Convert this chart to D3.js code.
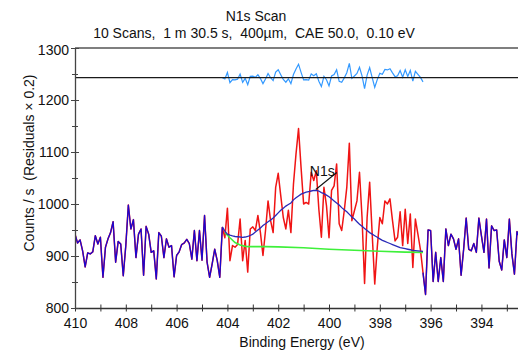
<!DOCTYPE html>
<html>
<head>
<meta charset="utf-8">
<script src="https://cdn.jsdelivr.net/npm/d3@7"></script>
<style>
  html, body { margin: 0; padding: 0; background: #fff; }
  svg { display: block; font-family: "Liberation Sans", Arial, sans-serif; }
  text { white-space: pre; }
</style>
</head>
<body>
<svg id="chart" width="518" height="355"></svg>
<script>
// N1s region scan, 0.10 eV step starting at 410.0 eV binding energy
const energyStart = 410.0;
const energyStep = 0.1;

const counts = [
  942, 925, 931, 910, 879, 906, 904, 908, 939, 923,
  936, 859, 917, 933, 945, 966, 888, 928, 923, 862,
  920, 998, 952, 970, 897, 942, 952, 863, 957, 942,
  907, 910, 856, 945, 938, 897, 933, 917, 920, 860,
  901, 908, 922, 925, 932, 924, 894, 949, 891, 949,
  892, 978, 888, 859, 885, 913, 891, 859, 955, 935,
  992, 891, 920, 917, 922, 971, 891, 930, 869, 952,
  956, 949, 978, 945, 901, 949, 1006, 968, 945, 1032,
  1059, 1016, 974, 952, 988, 945, 1038, 1096, 1145, 1070,
  1000, 1003, 1000, 1061, 1045, 1064, 990, 936, 1032, 997,
  935, 1026, 1035, 1077, 962, 949, 987, 1032, 1117, 968,
  987, 1006, 1061, 974, 847, 974, 1042, 942, 846, 917,
  974, 962, 1006, 1000, 1010, 968, 929, 936, 985, 920,
  990, 924, 981, 878, 971, 942, 912, 868, 826, 950,
  949, 851, 907, 851, 897, 851, 952, 920, 942, 933,
  913, 933, 863, 913, 973, 913, 910, 924, 907, 973,
  939, 907, 971, 877, 958, 949, 950, 890, 873, 931,
  897, 971, 904, 865, 947, 936
];

// Fit region: first and last sample index of the peak window
const fitStartIndex = 58;
const fitEndIndex = 137;

// Peak envelope (background + N1s component) over the fit window
const envelope = [
  956, 948, 942, 940, 938.5, 937.5, 937, 936.5, 936, 936.5,
  937.5, 939.5, 942, 946, 950, 954, 958.5, 962, 966, 969,
  973, 978, 983, 988, 992, 996, 999, 1002, 1008, 1012,
  1015.5, 1019, 1021, 1023, 1024, 1025, 1026, 1026, 1025, 1022,
  1020, 1017, 1014, 1010, 1006, 1002, 998, 993, 989, 985,
  980, 975, 971, 966, 961, 957, 953, 949, 945, 942,
  939, 936, 933, 930, 928, 926, 924, 922, 920, 918,
  916, 915, 914, 913, 912, 911, 910.5, 910, 909.5, 909
];

// Background under the peak
const bgEnergy = [404.1, 403.9, 403.7, 403.5, 403.3, 403.1, 402.5, 402.0, 401.0, 400.0, 399.0, 398.0, 397.0, 396.3];
const bgCounts = [945, 935, 926, 921, 918.5, 918, 918, 917.5, 916, 913, 911, 909, 907.5, 907];

// Residuals are plotted scaled by 0.2 around an offset baseline
const residualScale = 0.2;
const residualBaseline = 1243;

const peakLabel = "N1s";
const titleText = "N1s Scan";
const subtitleText = "10 Scans,  1 m 30.5 s,  400\u00b5m,  CAE 50.0,  0.10 eV";
const xTitle = "Binding Energy (eV)";
const yTitle = "Counts / s  (Residuals \u00d7 0.2)";

const xMinorTicks = d3.range(393, 411, 1);
const xLabelTicks = [410, 408, 406, 404, 402, 400, 398, 396, 394];
const yMajorTicks = [800, 900, 1000, 1100, 1200, 1300];
const yMinorTicks = [850, 950, 1050, 1150, 1250];

(function draw() {
  const plotLeft = 75, plotRight = 518, plotTop = 48, plotBottom = 308;

  const svg = d3.select("#chart");

  const x = d3.scaleLinear().domain([410, 392.56]).range([plotLeft, plotRight]);
  const y = d3.scaleLinear().domain([800, 1300]).range([plotBottom, plotTop]);

  const energies = counts.map((_, i) => +(energyStart - energyStep * i).toFixed(1));
  const points = counts.map((c, i) => ({ e: energies[i], v: c, i }));

  svg.append("defs").append("clipPath").attr("id", "plotClip")
    .append("rect").attr("x", plotLeft).attr("y", plotTop - 2)
    .attr("width", plotRight - plotLeft).attr("height", plotBottom - plotTop + 4);

  const plot = svg.append("g").attr("clip-path", "url(#plotClip)");
  const line = d3.line().x(d => x(d.e)).y(d => y(d.v));

  // full spectrum in red underneath, blue on top outside the fit window
  plot.append("path")
    .datum(points)
    .attr("fill", "none").attr("stroke", "#f01414").attr("stroke-width", 1.5)
    .attr("stroke-linejoin", "round")
    .attr("d", line);

  const outsideLeft = points.filter(p => p.i <= fitStartIndex);
  const outsideRight = points.filter(p => p.i >= fitEndIndex);
  [outsideLeft, outsideRight].forEach(seg => {
    plot.append("path")
      .datum(seg)
      .attr("fill", "none").attr("stroke", "#1a06d0").attr("stroke-width", 1.3)
      .attr("stroke-linejoin", "round")
      .attr("d", line);
  });

  // background
  plot.append("path")
    .datum(bgEnergy.map((e, k) => ({ e, v: bgCounts[k] })))
    .attr("fill", "none").attr("stroke", "#3ef03a").attr("stroke-width", 1.6)
    .attr("d", line);

  // envelope
  const envPts = envelope.map((v, k) => ({ e: energies[fitStartIndex + k], v }));
  plot.append("path")
    .datum(envPts)
    .attr("fill", "none").attr("stroke", "#2a2ab8").attr("stroke-width", 1.3)
    .attr("d", line);

  // residuals
  const resPts = envelope.map((v, k) => {
    const idx = fitStartIndex + k;
    return { e: energies[idx], v: residualBaseline + residualScale * (counts[idx] - v) };
  });
  plot.append("path")
    .datum(resPts)
    .attr("fill", "none").attr("stroke", "#3399ff").attr("stroke-width", 1.2)
    .attr("d", line);

  // residual baseline
  svg.append("line")
    .attr("x1", plotLeft).attr("x2", plotRight)
    .attr("y1", y(residualBaseline)).attr("y2", y(residualBaseline))
    .attr("stroke", "#1a1a1a").attr("stroke-width", 1.4);

  // top frame
  svg.append("line")
    .attr("x1", plotLeft).attr("x2", plotRight).attr("y1", plotTop).attr("y2", plotTop)
    .attr("stroke", "#555").attr("stroke-width", 1.3);

  // peak label with leader
  const peakK = d3.maxIndex(envelope);
  const px = x(energies[fitStartIndex + peakK]);
  const py = y(envelope[peakK]);
  svg.append("line")
    .attr("x1", px + 2).attr("y1", py - 1)
    .attr("x2", px + 23).attr("y2", py - 18)
    .attr("stroke", "#111").attr("stroke-width", 1.1);
  svg.append("text")
    .attr("x", px + 21).attr("y", py - 14)
    .attr("text-anchor", "end")
    .attr("font-size", 14).attr("fill", "#111")
    .text(peakLabel);

  // axes
  const tickFont = 14;
  const intFormat = d3.format("d");

  const xAxisMinor = svg.append("g").attr("transform", `translate(0,${plotBottom})`)
    .call(d3.axisBottom(x).tickValues(xMinorTicks).tickFormat("").tickSizeOuter(0));
  xAxisMinor.select(".domain").attr("stroke", "#333").attr("stroke-width", 1.3);
  xAxisMinor.selectAll(".tick line").attr("y1", -3.5).attr("y2", 3.5).attr("stroke", "#333");

  const xAxisLabels = svg.append("g").attr("transform", `translate(0,${plotBottom})`)
    .call(d3.axisBottom(x).tickValues(xLabelTicks).tickFormat(intFormat).tickSize(0).tickPadding(10));
  xAxisLabels.select(".domain").remove();
  xAxisLabels.selectAll("text").attr("font-size", tickFont).attr("fill", "#111");

  const yAxisMinor = svg.append("g").attr("transform", `translate(${plotLeft},0)`)
    .call(d3.axisLeft(y).tickValues(yMinorTicks).tickFormat("").tickSizeOuter(0));
  yAxisMinor.select(".domain").attr("stroke", "#444").attr("stroke-width", 1.3);
  yAxisMinor.selectAll(".tick line").attr("x1", -3).attr("x2", 3).attr("stroke", "#444");

  const yAxisMajor = svg.append("g").attr("transform", `translate(${plotLeft},0)`)
    .call(d3.axisLeft(y).tickValues(yMajorTicks).tickFormat(intFormat).tickSize(0).tickPadding(6));
  yAxisMajor.select(".domain").remove();
  yAxisMajor.selectAll(".tick").append("line")
    .attr("x1", -4).attr("x2", 4).attr("stroke", "#444");
  yAxisMajor.selectAll("text").attr("font-size", tickFont).attr("fill", "#111");
  yAxisMajor.selectAll(".tick").filter(d => d === 1300).select("text").attr("dy", "0.45em");

  [xAxisLabels, yAxisMajor, xAxisMinor, yAxisMinor].forEach(g => g.attr("font-family", null));

  // titles
  svg.append("text").attr("x", 256).attr("y", 21).attr("text-anchor", "middle")
    .attr("font-size", 14).attr("fill", "#111").text(titleText);
  svg.append("text").attr("x", 254).attr("y", 38).attr("text-anchor", "middle")
    .attr("font-size", 14).attr("fill", "#111").text(subtitleText);
  svg.append("text").attr("x", 302).attr("y", 347).attr("text-anchor", "middle")
    .attr("font-size", 14).attr("fill", "#111").text(xTitle);
  svg.append("text").attr("transform", "translate(34,163) rotate(-90)")
    .attr("text-anchor", "middle")
    .attr("font-size", 14).attr("fill", "#111").text(yTitle);
})();
</script>
</body>
</html>
